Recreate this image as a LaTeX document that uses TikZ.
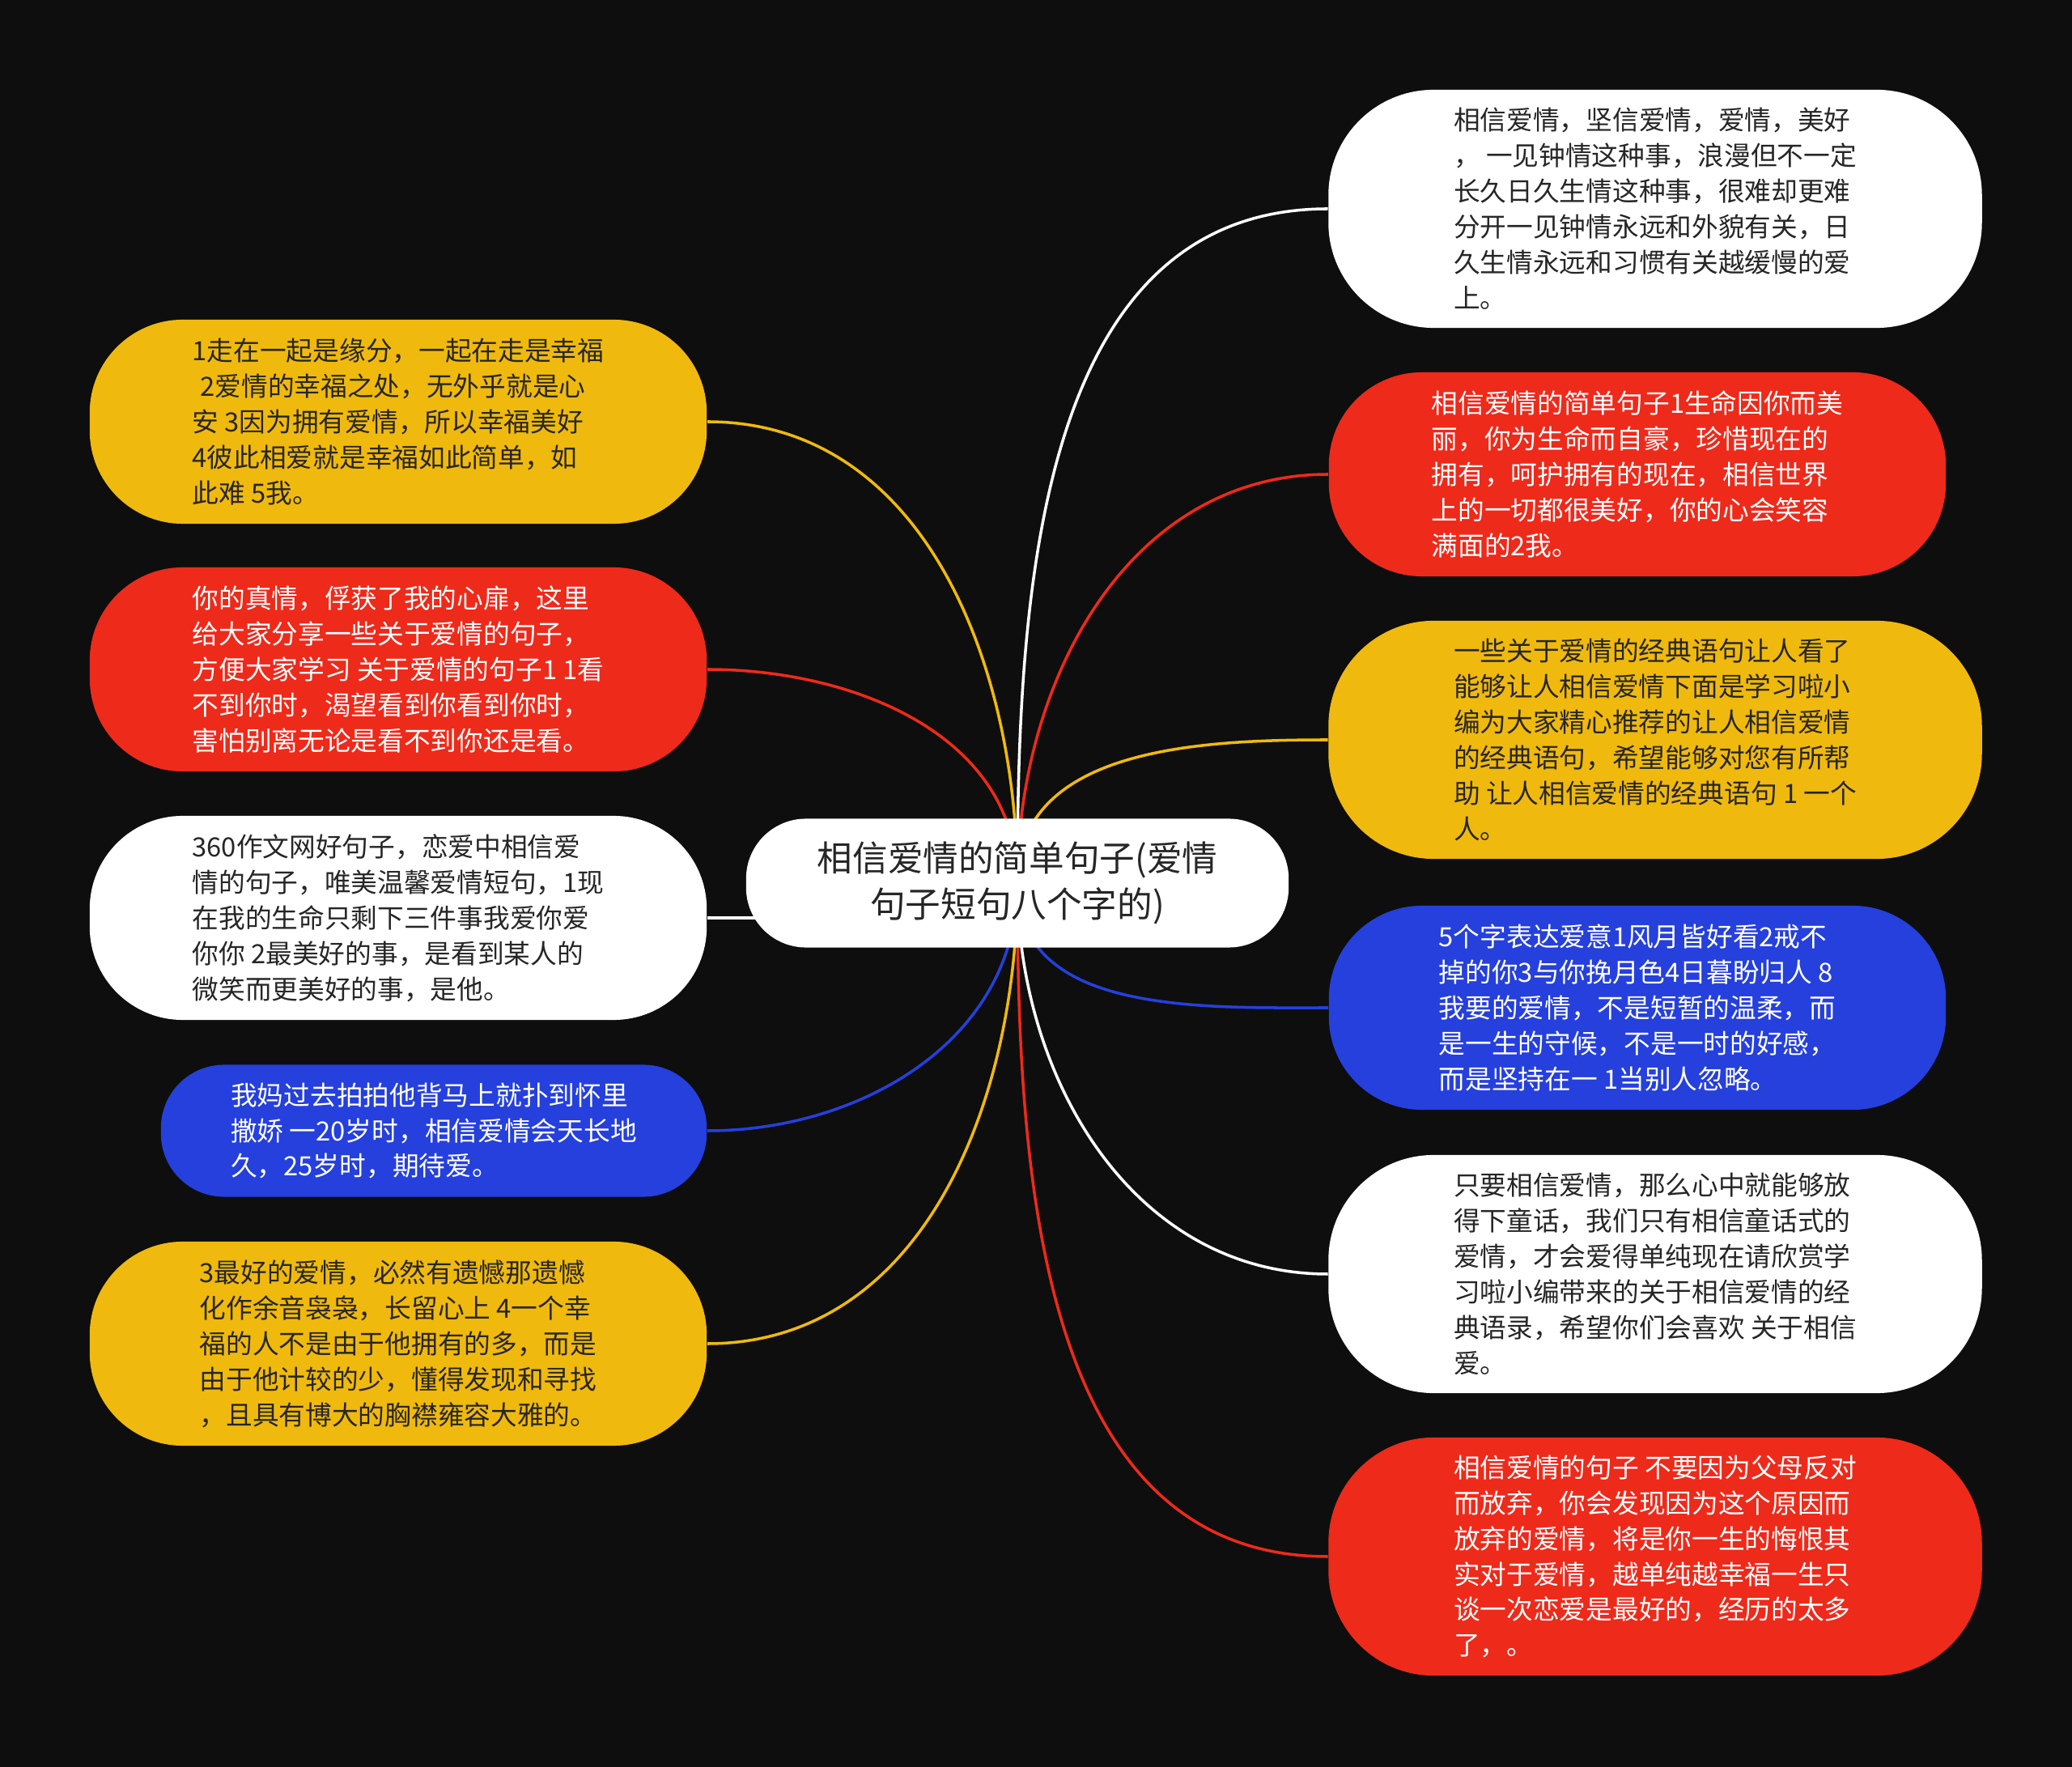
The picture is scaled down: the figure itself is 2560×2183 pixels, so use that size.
\documentclass[tikz,border=0pt]{standalone}
\usepackage{fontspec}
\newfontfamily\cjk{Noto Sans CJK SC}

\definecolor{pagebg}{RGB}{14,14,14}
\definecolor{lovegold}{RGB}{240,185,14}
\definecolor{lovered}{RGB}{238,42,26}
\definecolor{loveblue}{RGB}{37,64,220}
\definecolor{ink}{RGB}{38,38,38}

\pgfdeclarelayer{back}
\pgfdeclarelayer{links}
\pgfsetlayers{back,links,main}

\tikzset{
  leaf/.style={rounded corners=1.15cm, minimum width=7.62cm, minimum height=2.52cm,
    inner sep=0pt, align=left, font=\cjk\fontsize{9.3}{12.5}\selectfont},
  tallleaf/.style={leaf, rounded corners=1.3cm, minimum width=8.07cm, minimum height=2.94cm},
  flatleaf/.style={leaf, rounded corners=0.78cm, minimum width=6.74cm, minimum height=1.63cm},
  twig/.style={line width=1pt},
}

\begin{document}
\begin{tikzpicture}[x=0.01cm, y=-0.01cm]
            % dark page
            \begin{pgfonlayer}{back}
              \fill[pagebg] (0,0) rectangle (2560,2183);
            \end{pgfonlayer}
            \useasboundingbox (0,0) rectangle (2560,2183);

            % central topic
            \node[rounded corners=0.74cm, minimum width=6.70cm, minimum height=1.59cm,
              fill=white, text=ink, align=center, font=\cjk\fontsize{12.4}{16.2}\selectfont]
              (hub) at (1257,1091) {相信爱情的简单句子(爱情\\句子短句八个字的)};

            % left branch
            \node[leaf, fill=lovegold, text=ink] (l1) at (492,521)
              {1走在一起是缘分，一起在走是幸福\\\hspace*{0.3em}2爱情的幸福之处，无外乎就是心\\安 3因为拥有爱情，所以幸福美好\\4彼此相爱就是幸福如此简单，如\\此难 5我。};
            \node[leaf, fill=lovered, text=white] (l2) at (492,827)
              {你的真情，俘获了我的心扉，这里\\给大家分享一些关于爱情的句子，\\方便大家学习 关于爱情的句子1 1看\\不到你时，渴望看到你看到你时，\\害怕别离无论是看不到你还是看。};
            \node[leaf, fill=white, text=ink] (l3) at (492,1134)
              {360作文网好句子，恋爱中相信爱\\情的句子，唯美温馨爱情短句，1现\\在我的生命只剩下三件事我爱你爱\\你你 2最美好的事，是看到某人的\\微笑而更美好的事，是他。};
            \node[flatleaf, fill=loveblue, text=white] (l4) at (536,1397)
              {我妈过去拍拍他背马上就扑到怀里\\撒娇 一20岁时，相信爱情会天长地\\久，25岁时，期待爱。};
            \node[leaf, fill=lovegold, text=ink] (l5) at (492,1660)
              {3最好的爱情，必然有遗憾那遗憾\\化作余音袅袅，长留心上 4一个幸\\福的人不是由于他拥有的多，而是\\由于他计较的少，懂得发现和寻找\\，且具有博大的胸襟雍容大雅的。};

            % right branch
            \node[tallleaf, fill=white, text=ink] (r1) at (2045,258)
              {相信爱情，坚信爱情，爱情，美好\\， 一见钟情这种事，浪漫但不一定\\长久日久生情这种事，很难却更难\\分开一见钟情永远和外貌有关，日\\久生情永远和习惯有关越缓慢的爱\\上。};
            \node[leaf, fill=lovered, text=white] (r2) at (2023,586)
              {相信爱情的简单句子1生命因你而美\\丽，你为生命而自豪，珍惜现在的\\拥有，呵护拥有的现在，相信世界\\上的一切都很美好，你的心会笑容\\满面的2我。};
            \node[tallleaf, fill=lovegold, text=ink] (r3) at (2045,914)
              {一些关于爱情的经典语句让人看了\\能够让人相信爱情下面是学习啦小\\编为大家精心推荐的让人相信爱情\\的经典语句，希望能够对您有所帮\\助 让人相信爱情的经典语句 1 一个\\人。};
            \node[leaf, fill=loveblue, text=white] (r4) at (2023,1245)
              {5个字表达爱意1风月皆好看2戒不\\掉的你3与你挽月色4日暮盼归人 8\\我要的爱情，不是短暂的温柔，而\\是一生的守候，不是一时的好感，\\而是坚持在一 1当别人忽略。};
            \node[tallleaf, fill=white, text=ink] (r5) at (2045,1574)
              {只要相信爱情，那么心中就能够放\\得下童话，我们只有相信童话式的\\爱情，才会爱得单纯现在请欣赏学\\习啦小编带来的关于相信爱情的经\\典语录，希望你们会喜欢 关于相信\\爱。};
            \node[tallleaf, fill=lovered, text=white] (r6) at (2045,1923)
              {相信爱情的句子 不要因为父母反对\\而放弃，你会发现因为这个原因而\\放弃的爱情，将是你一生的悔恨其\\实对于爱情，越单纯越幸福一生只\\谈一次恋爱是最好的，经历的太多\\了，。};

            % curved links, tucked under the nodes
            \begin{pgfonlayer}{links}
              \draw[twig, lovegold] (hub.center) to[out=90, in=0] (l1.east);
              \draw[twig, lovered] (hub.center) to[out=90, in=0] (l2.east);
              \draw[twig, white] (hub.center |- l3.east) -- (l3.east);
              \draw[twig, loveblue] (hub.center) to[out=-90, in=0] (l4.east);
              \draw[twig, lovegold] (hub.center) to[out=-90, in=0] (l5.east);
              \draw[twig, white] (hub.center) to[out=90, in=180] (r1.west);
              \draw[twig, lovered] (hub.center) to[out=90, in=180] (r2.west);
              \draw[twig, lovegold] (hub.center) to[out=90, in=180] (r3.west);
              \draw[twig, loveblue] (hub.center) to[out=-90, in=180] (r4.west);
              \draw[twig, white] (hub.center) to[out=-90, in=180] (r5.west);
              \draw[twig, lovered] (hub.center) to[out=-90, in=180] (r6.west);
            \end{pgfonlayer}
        \end{tikzpicture}
\end{document}
